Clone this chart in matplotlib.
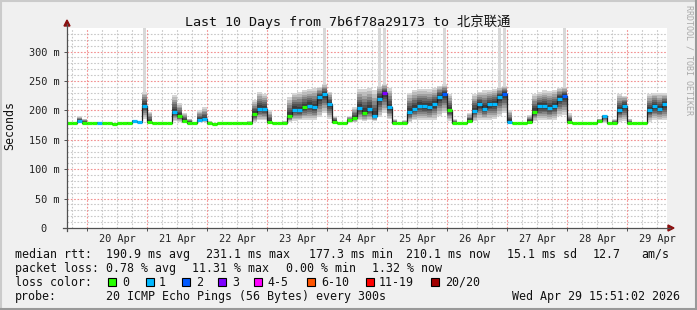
import numpy as np
import matplotlib
matplotlib.use("Agg")
import matplotlib.pyplot as plt
from matplotlib.lines import Line2D
from matplotlib.patches import Rectangle, Polygon

plt.rcParams['font.family'] = ['DejaVu Sans Mono', 'Noto Sans CJK SC']

W, H = 697, 310

# ---------------- data (2-hour steps, starting Apr 19 15:51:02) ----------------
step_hours = 2
start_clock_hours = 15 + 51 / 60 + 2 / 3600
day_labels = ['20 Apr', '21 Apr', '22 Apr', '23 Apr', '24 Apr',
              '25 Apr', '26 Apr', '27 Apr', '28 Apr', '29 Apr']

median_ms = [
    178, 178, 182, 179, 178, 178, 179, 178, 178, 176.5,
    178, 178, 178.5, 182, 179.5, 208, 180, 178, 178, 178,
    178, 197, 191, 182, 179, 178.5, 184, 185, 178, 177,
    178, 178, 178.5, 178, 178, 178.5, 178, 194, 203, 202,
    180, 178, 178, 178, 190, 201, 200, 205, 208, 205,
    222, 228, 210, 181, 178, 178, 183, 187, 204, 196,
    202, 190, 220, 230, 205, 178, 178, 178, 197, 203,
    208, 207, 206, 210, 223, 228, 200, 178, 178, 178,
    182, 199, 210, 203, 210, 211, 222, 228, 181, 178,
    178, 178, 181, 198, 207, 207, 204, 207, 220, 224,
    180, 178, 178, 178, 178, 178, 182, 190, 178, 179,
    200, 208, 178, 178, 178, 178, 200, 207, 203, 210,
]

loss_cnt = [
    0, 0, 1, 0, 0, 0, 1, 0, 0, 0,
    0, 0, 0, 1, 1, 1, 0, 0, 0, 0,
    0, 1, 0, 0, 0, 0, 1, 1, 0, 0,
    0, 0, 0, 0, 0, 0, 0, 0, 1, 1,
    0, 0, 0, 0, 0, 1, 1, 0, 1, 1,
    1, 1, 1, 0, 0, 0, 0, 0, 1, 0,
    1, 1, 1, 3, 1, 0, 0, 0, 1, 1,
    1, 1, 1, 1, 1, 2, 0, 0, 0, 0,
    0, 1, 1, 1, 1, 1, 1, 2, 1, 0,
    0, 0, 0, 0, 1, 1, 1, 1, 1, 2,
    0, 0, 0, 0, 0, 0, 0, 1, 0, 0,
    1, 1, 0, 0, 0, 0, 1, 1, 1, 1,
]

smoke_lo = [
    177.5, 177.5, 178, 178, 177.5, 177.5, 178, 177.5, 177.5, 176,
    177.5, 177.5, 178, 179, 178, 186, 178, 177.5, 177.5, 177.5,
    177.5, 182, 180, 178, 178, 178, 180, 180, 177.5, 176.5,
    177.5, 177.5, 178, 177.5, 177.5, 178, 177.5, 180, 183, 183,
    178, 177.5, 177.5, 177.5, 180, 182, 183, 184, 184, 184,
    188, 195, 185, 178, 177.5, 177.5, 179, 180, 183, 182,
    183, 182, 188, 195, 185, 178, 177.5, 177.5, 180, 183,
    184, 184, 183, 184, 190, 195, 182, 177.5, 177.5, 177.5,
    179, 182, 184, 184, 184, 185, 190, 195, 178, 177.5,
    177.5, 177.5, 179, 182, 183, 184, 183, 184, 190, 192,
    178, 177.5, 177.5, 177.5, 177.5, 177.5, 179, 179, 177.5, 178,
    181, 182, 178, 177.5, 177.5, 178, 181, 183, 183, 183,
]

smoke_hi = [
    179, 179, 190, 186, 179, 179, 181, 179, 179, 178,
    179, 179, 181, 184, 182, 232, 198, 179, 179, 179,
    179, 226, 212, 196, 186, 180, 200, 205, 182, 178,
    179, 179, 180, 179, 179, 180, 182, 218, 232, 228,
    200, 179, 179, 182, 222, 230, 232, 235, 236, 238,
    240, 245, 232, 190, 179, 179, 190, 205, 236, 236,
    238, 234, 242, 245, 238, 185, 179, 183, 230, 235,
    236, 237, 236, 238, 242, 244, 228, 185, 179, 179,
    195, 228, 232, 234, 235, 236, 240, 242, 200, 179,
    179, 179, 192, 228, 232, 234, 233, 235, 238, 240,
    195, 179, 179, 179, 179, 179, 186, 192, 179, 185,
    228, 225, 186, 179, 179, 181, 228, 230, 229, 229,
]

peak_idx = [15, 51, 62, 63, 75, 86, 87, 99]
peak_ms = [345, 345, 345, 345, 345, 345, 345, 345]

loss_colors = ['#26ff00', '#00b8ff', '#0059ff', '#7e00ff',
               '#ff00ff', '#ff5500', '#ff0000', '#a10000']
loss_labels = ['0', '1', '2', '3', '4-5', '6-10', '11-19', '20/20']

# ---------------- figure ----------------
def fx(x):
    return x / W

def fy(y):
    return 1 - y / H

fig = plt.figure(figsize=(W / 100, H / 100), dpi=100)
fig.patch.set_facecolor('#f0f0f0')

ax = fig.add_axes([fx(67), fy(228), 600 / W, 200 / H])
ax.set_facecolor('white')
ax.set_xlim(0, 240)
ax.set_ylim(0, 340)
for s in ax.spines.values():
    s.set_visible(False)

first_midnight = 24 - start_clock_hours
midnights = [first_midnight + 24 * k for k in range(len(day_labels))]
noons = [m + 12 for m in midnights]

# grid
minor_col = '#c8c8c8'
major_col = '#f29090'
dash = (0, (1.5, 1.5))
for v in range(10, 340, 10):
    if v % 50:
        ax.axhline(v, color=minor_col, lw=0.8, ls=dash, zorder=1)
for v in range(50, 340, 50):
    ax.axhline(v, color=major_col, lw=0.8, ls=dash, zorder=1.1)
h = first_midnight - 6
while h < 240:
    if h > 0 and all(abs(h - m) > 0.1 for m in midnights):
        ax.axvline(h, color=minor_col, lw=0.8, ls=dash, zorder=1)
    h += 6
for m in midnights:
    ax.axvline(m, color=major_col, lw=0.8, ls=dash, zorder=1.1)

# data
med = np.array(median_ms, float)
lo = np.array(smoke_lo, float)
hi = np.array(smoke_hi, float)
t = np.arange(len(med)) * step_hours
edges = np.append(t, t[-1] + step_hours)

def stepify(a):
    return np.append(a, a[-1])

# outlier columns
for k, i in enumerate(peak_idx):
    ax.bar(t[i] + step_hours / 2, peak_ms[k] - hi[i], bottom=hi[i],
           width=1.4, color='#d8d8d8', lw=0, zorder=1.5)

# smoke
levels = [(1.0, '#d6d6d6'), (0.86, '#bcbcbc'), (0.72, '#a0a0a0'),
          (0.58, '#858585'), (0.45, '#6a6a6a'), (0.32, '#525252'),
          (0.2, '#3c3c3c')]
for f, c in levels:
    ax.fill_between(edges, stepify(med - f * (med - lo)), stepify(med + f * (hi - med)),
                    step='post', color=c, lw=0, zorder=2)

# median
ax.step(edges, stepify(med), where='post', color='#202020', lw=0.9, zorder=3)
ax.hlines(med, edges[:-1], edges[1:], colors=[loss_colors[c] for c in loss_cnt],
          lw=2.3, zorder=4, capstyle='butt')

# ticks
ax.set_yticks(range(0, 301, 50), ['0  ', '50 m', '100 m', '150 m', '200 m', '250 m', '300 m'])
ax.set_xticks(midnights, [''] * len(midnights))
ax.set_xticks(noons, day_labels, minor=True)
ax.tick_params(axis='y', length=2.2, width=0.7, color='#505050', pad=3, labelsize=7.4, labelcolor='#222222')
ax.tick_params(axis='x', which='major', length=2.2, width=0.7, color='#505050')
ax.tick_params(axis='x', which='minor', length=0, pad=4, labelsize=7.4, labelcolor='#222222')

# axis lines with arrows
axis_col = '#505050'
fig.add_artist(Line2D([fx(67), fx(67)], [fy(231), fy(24)], color=axis_col, lw=0.9))
fig.add_artist(Line2D([fx(63), fx(670)], [fy(228), fy(228)], color=axis_col, lw=0.9))
fig.add_artist(Polygon([(fx(64), fy(26)), (fx(70), fy(26)), (fx(67), fy(20))],
                       closed=True, color='#8b1010', transform=fig.transFigure))
fig.add_artist(Polygon([(fx(668), fy(225)), (fx(668), fy(231)), (fx(674), fy(228))],
                       closed=True, color='#8b1010', transform=fig.transFigure))

# border
fig.add_artist(Line2D([0, 1], [fy(1), fy(1)], color='#cbcbcb', lw=1.5))
fig.add_artist(Line2D([fx(1), fx(1)], [0, 1], color='#cbcbcb', lw=1.5))
fig.add_artist(Line2D([0, 1], [fy(309), fy(309)], color='#999999', lw=1.5))
fig.add_artist(Line2D([fx(696), fx(696)], [0, 1], color='#999999', lw=1.5))

# texts
txt = '#111111'
fig.text(fx(347.5), fy(22), 'Last 10 Days from 7b6f78a29173 to 北京联通',
         ha='center', va='center', fontsize=9.6, color=txt)
fig.text(fx(10), fy(126), 'Seconds', rotation=90, ha='center', va='center',
         fontsize=8.4, color=txt)
fig.text(fx(689), fy(5), 'RRDTOOL / TOBI OETIKER', rotation=270, ha='center', va='top',
         fontsize=6, color='#aaaaaa')

fs = 8.4
def lt(x, y, s):
    fig.text(fx(x), fy(y), s, ha='left', va='baseline', fontsize=fs, color=txt)

y1, y2, y3, y4 = 257.7, 271.7, 285.7, 300
lt(15, y1, 'median rtt:')
lt(106, y1, '190.9 ms avg')
lt(206, y1, '231.1 ms max')
lt(309, y1, '177.3 ms min')
lt(406, y1, '210.1 ms now')
lt(507, y1, '15.1 ms sd')
lt(593, y1, '12.7')
lt(641, y1, 'am/s')

lt(15, y2, 'packet loss:')
lt(106, y2, '0.78 % avg')
lt(192, y2, '11.31 % max')
lt(285.5, y2, '0.00 % min')
lt(371.5, y2, '1.32 % now')

lt(15, y3, 'loss color:')
box_x = [108.3, 145.7, 182.3, 218.3, 254, 306.7, 365.7, 431]
lab_x = [122, 159, 196, 232.5, 267.5, 321, 379, 445]
for bx, lx, c, lab in zip(box_x, lab_x, loss_colors, loss_labels):
    fig.add_artist(Rectangle((fx(bx), fy(285.5)), 8 / W, 8 / H, facecolor=c,
                             edgecolor='black', lw=0.8, transform=fig.transFigure))
    lt(lx, y3, lab)

lt(15, y4, 'probe:')
lt(106, y4, '20 ICMP Echo Pings (56 Bytes) every 300s')
lt(512.5, y4, 'Wed Apr 29 15:51:02 2026')

fig.savefig('out.png', dpi=100, facecolor=fig.get_facecolor())
